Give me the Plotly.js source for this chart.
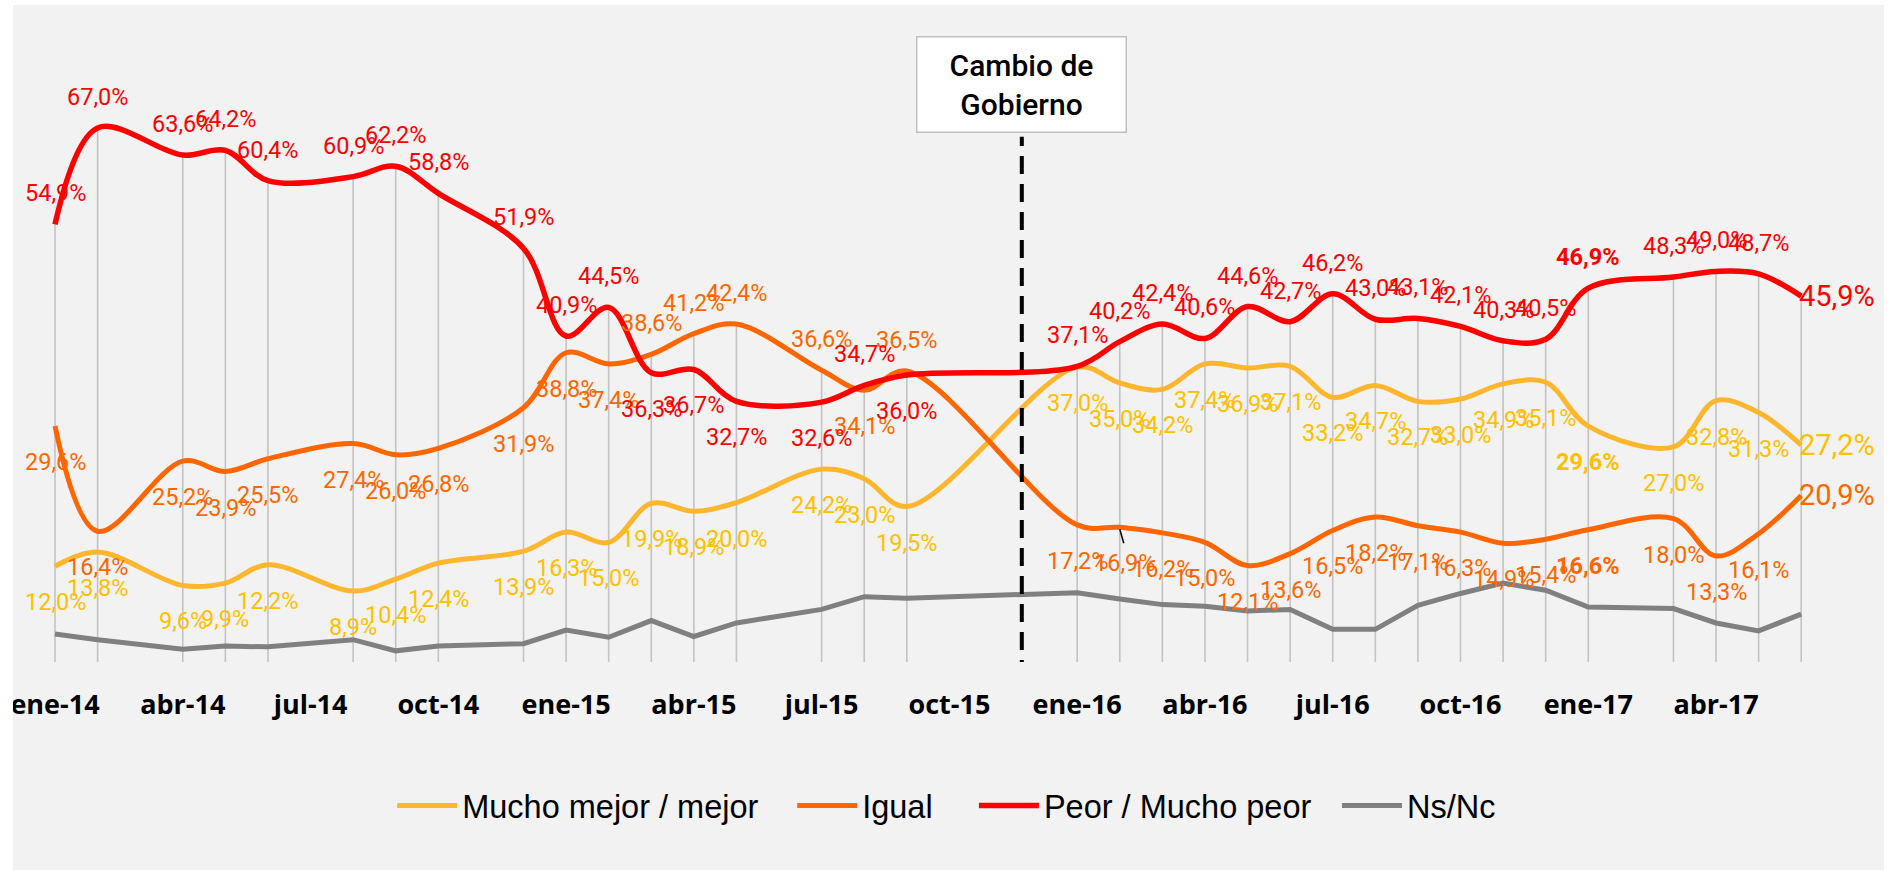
<!DOCTYPE html>
<html>
<head>
<meta charset="utf-8">
<script src="https://cdn.plot.ly/plotly-3.0.1.min.js"></script>
<style>
  html, body { margin: 0; padding: 0; background: #ffffff; width: 1893px; height: 870px; overflow: hidden; }
  #chart { position: absolute; left: 13px; top: 5px; width: 1871px; height: 865px; }
</style>
</head>
<body>
<div id="chart"></div>
<script>
// ---- Data ----
const fechas = ['2014-01','2014-02','2014-04','2014-05','2014-06','2014-08','2014-09','2014-10','2014-12',
                '2015-01','2015-02','2015-03','2015-04','2015-05','2015-07','2015-08','2015-09',
                '2016-01','2016-02','2016-03','2016-04','2016-05','2016-06','2016-07','2016-08','2016-09','2016-10','2016-11','2016-12',
                '2017-01','2017-03','2017-04','2017-05','2017-06'];
const mejor = [12.0,13.8,9.6,9.9,12.2,8.9,10.4,12.4,13.9,
               16.3,15.0,19.9,18.9,20.0,24.2,23.0,19.5,
               37.0,35.0,34.2,37.4,36.9,37.1,33.2,34.7,32.7,33.0,34.9,35.1,
               29.6,27.0,32.8,31.3,27.2];
const igual = [29.6,16.4,25.2,23.9,25.5,27.4,26.0,26.8,31.9,
               38.8,37.4,38.6,41.2,42.4,36.6,34.1,36.5,
               17.2,16.9,16.2,15.0,12.1,13.6,16.5,18.2,17.1,16.3,14.9,15.4,
               16.6,18.0,13.3,16.1,20.9];
const peor  = [54.9,67.0,63.6,64.2,60.4,60.9,62.2,58.8,51.9,
               40.9,44.5,36.3,36.7,32.7,32.6,34.7,36.0,
               37.1,40.2,42.4,40.6,44.6,42.7,46.2,43.0,43.1,42.1,40.3,40.5,
               46.9,48.3,49.0,48.7,45.9];
const nsnc  = [3.5,2.8,1.6,2.0,1.9,2.8,1.4,2.0,2.3,
               4.0,3.1,5.2,3.2,4.9,6.6,8.2,8.0,
               8.7,7.9,7.2,7.0,6.4,6.6,4.1,4.1,7.1,8.6,9.9,9.0,
               6.9,6.7,4.9,3.9,6.0];
const tickLabels = ['ene-14','abr-14','jul-14','oct-14','ene-15','abr-15','jul-15','oct-15',
                    'ene-16','abr-16','jul-16','oct-16','ene-17','abr-17'];
const seriesNames = ['Mucho mejor / mejor','Igual','Peor / Mucho peor','Ns/Nc'];
const cambioTexto = 'Cambio de<br>Gobierno';

// ---- Layout / style configuration ----
const lineColors  = ['#FFB62F','#FF6600','#FF0000','#808080'];
const labelColors = ['#FFC000','#FF6600','#FF0000'];
const swapIdx = [11,12,13,14,16];   // points where Peor label goes below and Igual above
const boldIdx = [29];
const leaderIdx = 18;                // Igual label with a small leader line
const cambioMes = 22.7;              // position of the dashed "Cambio de Gobierno" marker (month index)
const legendX = [0.1979, 0.4165, 0.5158, 0.7142];

const monthIndex = s => { const p = s.split('-'); return (+p[0]-2014)*12 + (+p[1]-1); };
const xs = fechas.map(monthIndex);
const fmt = v => v.toFixed(1).replace('.', ',') + '%';

// drop lines from highest value down to the axis
const dropX = [], dropY = [];
xs.forEach((x, i) => {
  const top = Math.max(mejor[i], igual[i], peor[i], nsnc[i]);
  dropX.push(x, x, null); dropY.push(top, 0, null);
});

const legendIds = ['legend','legend2','legend3','legend4'];
const traces = [
  {x: dropX, y: dropY, mode: 'lines', line: {color: '#C3C3C3', width: 1.6}, showlegend: false, hoverinfo: 'skip'},
  {x: xs, y: mejor, name: seriesNames[0], legend: legendIds[0], mode: 'lines', line: {color: lineColors[0], width: 5, shape: 'spline', smoothing: 1}},
  {x: xs, y: igual, name: seriesNames[1], legend: legendIds[1], mode: 'lines', line: {color: lineColors[1], width: 5, shape: 'spline', smoothing: 1}},
  {x: xs, y: peor,  name: seriesNames[2], legend: legendIds[2], mode: 'lines', line: {color: lineColors[2], width: 5.5, shape: 'spline', smoothing: 1}},
  {x: xs, y: nsnc,  name: seriesNames[3], legend: legendIds[3], mode: 'lines', line: {color: lineColors[3], width: 5}}
];

const annotations = [];
const labelSeries = [mejor, igual, peor];
labelSeries.forEach((arr, s) => {
  arr.forEach((v, i) => {
    const last = i === arr.length - 1;
    const swapped = swapIdx.includes(i);
    let above;
    if (s === 0) above = false;
    else if (s === 1) above = swapped;
    else above = !swapped;
    const a = {
      x: xs[i], y: v, xref: 'x', yref: 'y', showarrow: false,
      text: fmt(v),
      font: {family: 'Roboto, sans-serif', size: last ? 29 : 23.5, color: labelColors[s],
             weight: boldIdx.includes(i) ? 700 : 400},
      xanchor: 'center', yanchor: 'middle'
    };
    if (last) { a.xanchor = 'left'; a.xshift = -4; a.yshift = 0; }
    else { a.yshift = above ? 31 : -36; if (s === 1 && i === leaderIdx) a.xshift = 5; }
    annotations.push(a);
  });
});

annotations.push({
  x: cambioMes, y: 0.9285, xref: 'x', yref: 'paper', showarrow: false,
  text: cambioTexto, align: 'center', valign: 'middle',
  width: 208, height: 94, borderpad: 0,
  bgcolor: '#FFFFFF', bordercolor: '#BFBFBF', borderwidth: 1.5,
  font: {family: 'Roboto, sans-serif', size: 30, color: '#000000', weight: 500},
  xanchor: 'center', yanchor: 'middle'
});

const legendStyle = x => ({
  orientation: 'h', xref: 'paper', yref: 'paper', x: x, xanchor: 'left', y: -0.2315, yanchor: 'middle',
  font: {family: '"Liberation Sans", Arial, sans-serif', size: 32.5, color: '#000000'},
  bgcolor: 'rgba(0,0,0,0)', itemwidth: 60, borderwidth: 0
});

const layout = {
  width: 1871, height: 865,
  paper_bgcolor: '#F2F2F2', plot_bgcolor: '#F2F2F2',
  margin: {l: 17, r: 24, t: 35, b: 208, pad: 0, autoexpand: false},
  xaxis: {
    range: [-0.587, 42.38], showgrid: false, zeroline: false, showline: false,
    tickmode: 'array', tickvals: tickLabels.map((_, k) => 3*k), ticktext: tickLabels,
    ticks: 'outside', ticklen: 19, tickcolor: 'rgba(0,0,0,0)', ticklabeloverflow: 'allow',
    tickfont: {family: '"Open Sans", sans-serif', size: 27, color: '#000000', weight: 700}
  },
  yaxis: {range: [0, 78.04], showgrid: false, zeroline: false, showline: false, showticklabels: false, ticks: ''},
  showlegend: true,
  legend: legendStyle(legendX[0]),
  legend2: legendStyle(legendX[1]),
  legend3: legendStyle(legendX[2]),
  legend4: legendStyle(legendX[3]),
  shapes: [
    {
      type: 'line', xref: 'x', yref: 'y', x0: cambioMes, x1: cambioMes, y0: -2, y1: 65.9,
      line: {color: '#000000', width: 4, dash: '18px,10px'}
    },
    {
      type: 'line', xref: 'x', yref: 'y', xsizemode: 'pixel', ysizemode: 'pixel',
      xanchor: xs[leaderIdx], yanchor: igual[leaderIdx], x0: 0, x1: 4, y0: -2, y1: -16,
      line: {color: '#000000', width: 1.5}
    }
  ],
  annotations: annotations
};

Plotly.newPlot('chart', traces, layout, {staticPlot: true, displayModeBar: false});
</script>
</body>
</html>
